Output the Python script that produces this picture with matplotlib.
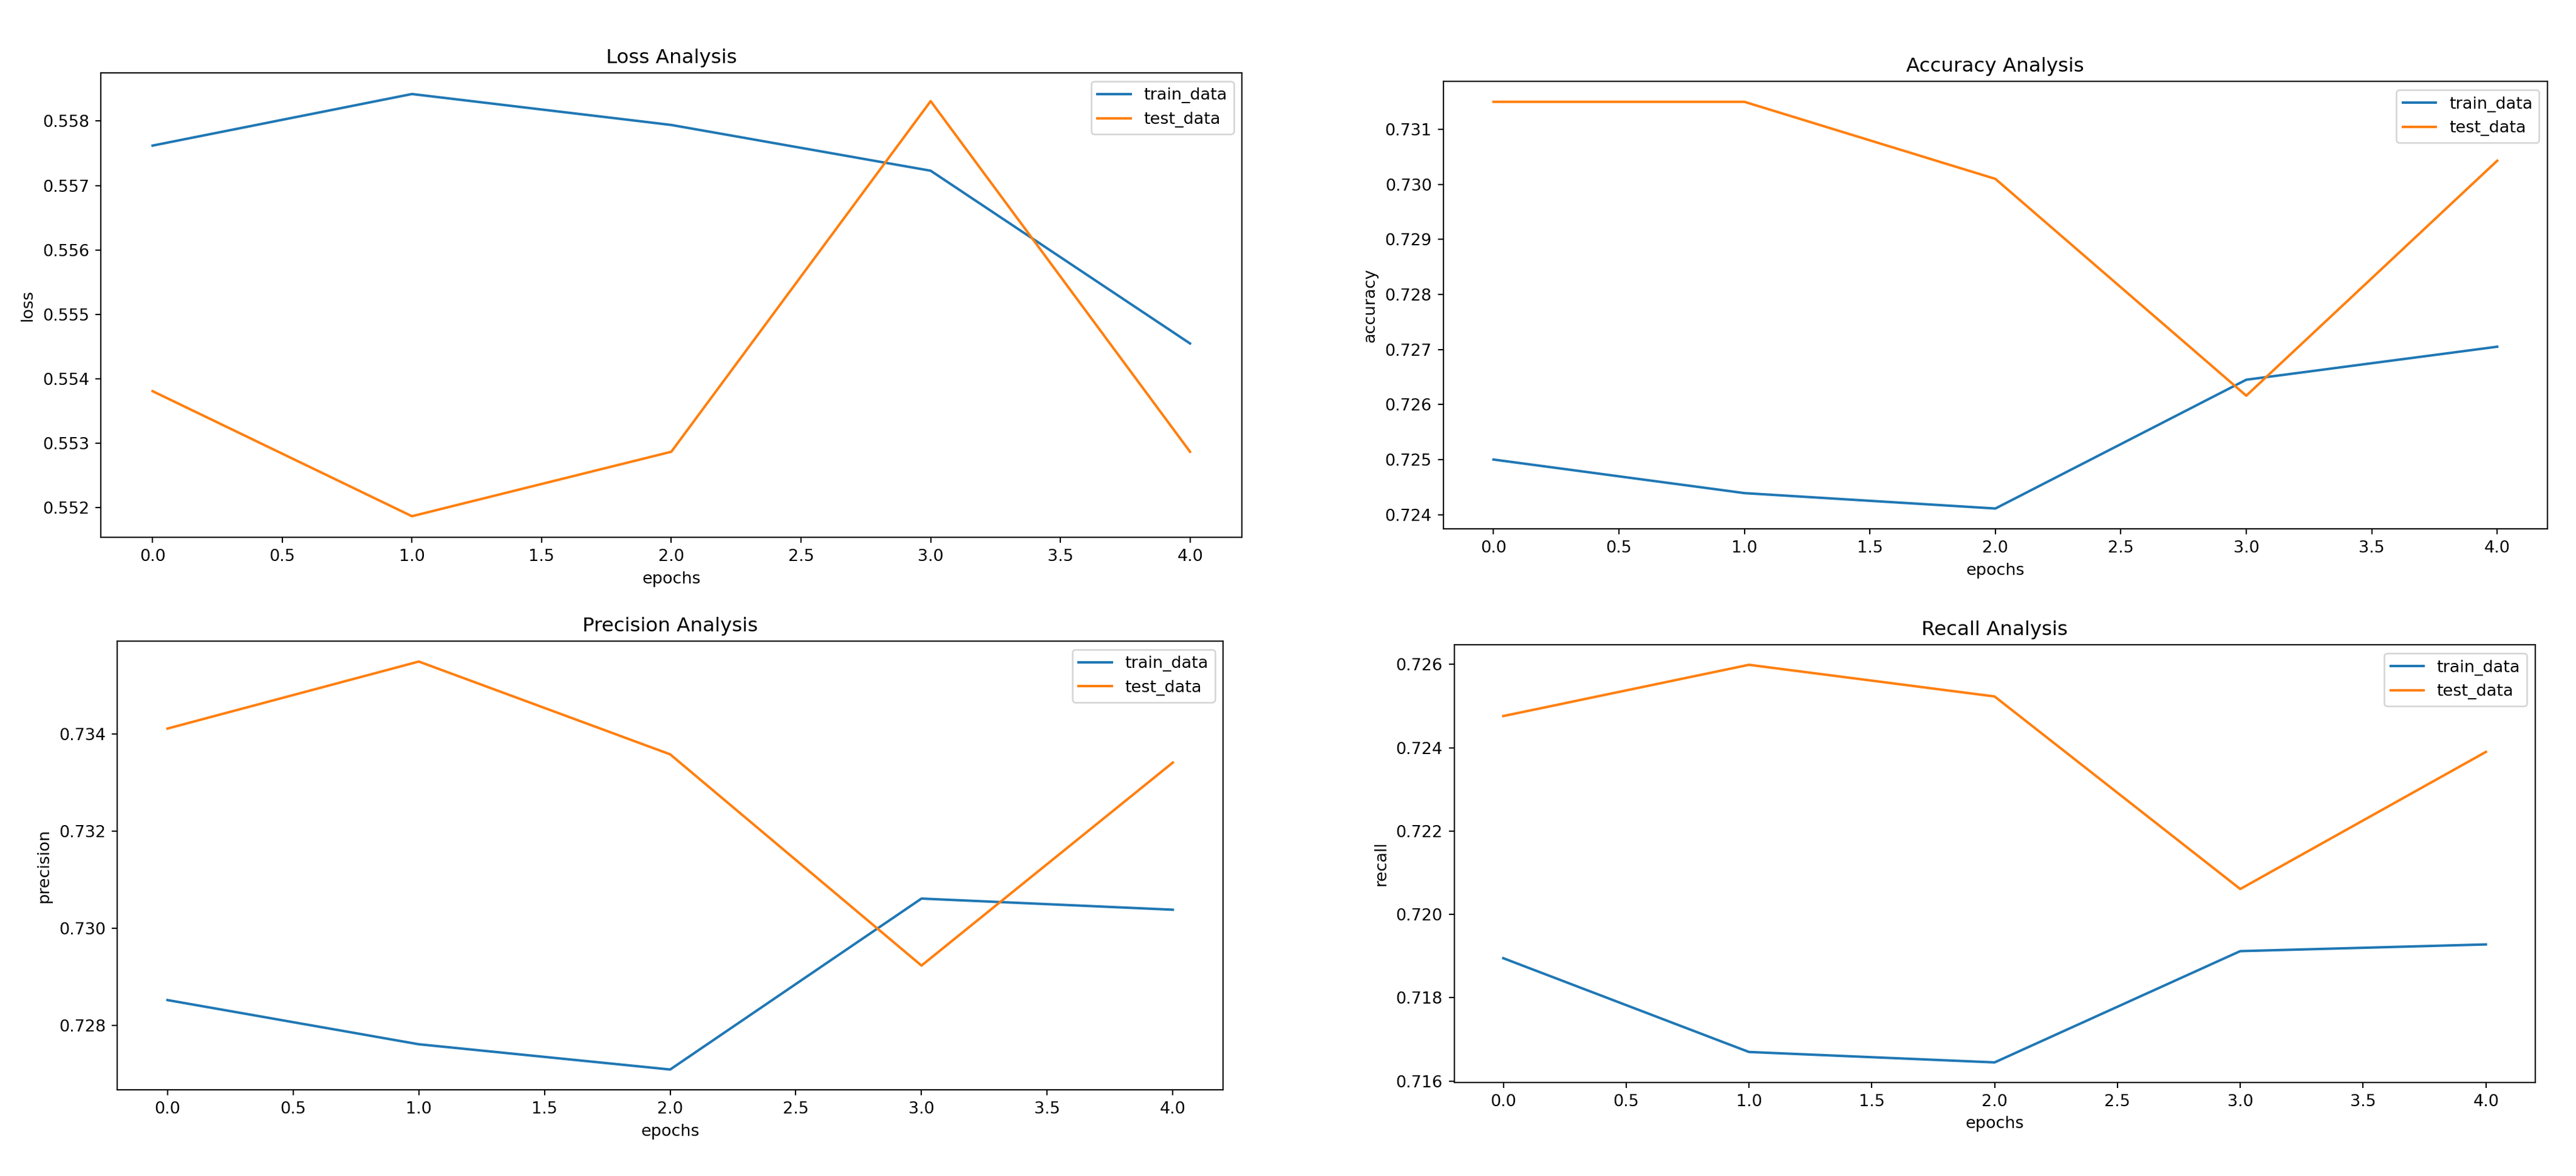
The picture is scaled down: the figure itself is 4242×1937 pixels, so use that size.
import matplotlib
matplotlib.use("Agg")
import matplotlib.pyplot as plt

epochs = [0, 1, 2, 3, 4]

loss_train = [0.55762, 0.55842, 0.55794, 0.55723, 0.55455]
loss_test = [0.55381, 0.55187, 0.55287, 0.55831, 0.55287]

acc_train = [0.72500, 0.72439, 0.72411, 0.72645, 0.72705]
acc_test = [0.73150, 0.73150, 0.73010, 0.72616, 0.73043]

prec_train = [0.72852, 0.72761, 0.72709, 0.73061, 0.73038]
prec_test = [0.73411, 0.73549, 0.73358, 0.72923, 0.73341]

rec_train = [0.71895, 0.71670, 0.71645, 0.71912, 0.71928]
rec_test = [0.72476, 0.72599, 0.72523, 0.72061, 0.72390]

panels = [
    ("Loss Analysis", "loss", loss_train, loss_test, [0.0391, 0.5431, 0.4430, 0.3949]),
    ("Accuracy Analysis", "accuracy", acc_train, acc_test, [0.5603, 0.5503, 0.4286, 0.3804]),
    ("Precision Analysis", "precision", prec_train, prec_test, [0.0455, 0.0732, 0.4293, 0.3816]),
    ("Recall Analysis", "recall", rec_train, rec_test, [0.5645, 0.0797, 0.4196, 0.3719]),
]

dpi = 194.8
fig = plt.figure(figsize=(4242 / dpi, 1937 / dpi), dpi=dpi)

for title, metric, train, test, rect in panels:
    ax = fig.add_axes(rect)
    ax.plot(epochs, train, label="train_data")
    ax.plot(epochs, test, label="test_data")
    ax.set_title(title)
    ax.set_xlabel("epochs")
    ax.set_ylabel(metric)
    ax.legend(loc="upper right")

fig.savefig("out.png", dpi=dpi)
